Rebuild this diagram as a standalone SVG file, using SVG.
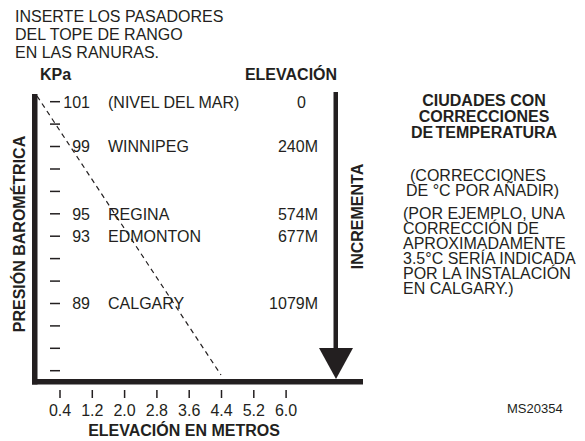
<svg xmlns="http://www.w3.org/2000/svg" width="585" height="441" viewBox="0 0 585 441">
<style>
text{font-family:"Liberation Sans",Arial,Helvetica,sans-serif;fill:#231f20;font-size:16px}
.b{font-weight:bold}
.e{text-anchor:end}
.m{text-anchor:middle}
.tick{stroke:#231f20;stroke-width:1.5}
.bar{fill:#231f20}
</style>
<rect width="585" height="441" fill="#fff"/>
<g id="instructions">
<text x="15" y="22">INSERTE LOS PASADORES</text>
<text x="15" y="40">DEL TOPE DE RANGO</text>
<text x="15" y="58">EN LAS RANURAS.</text>
</g>
<g id="axis-labels">
<text class="b" x="40" y="80">KPa</text>
<text class="b m" x="291" y="80">ELEVACIÓN</text>
<text class="b m" transform="translate(25,234) rotate(-90)">PRESIÓN BAROMÉTRICA</text>
<text class="b m" transform="translate(363,216.5) rotate(-90)">INCREMENTA</text>
<text class="b m" x="184" y="436">ELEVACIÓN EN METROS</text>
</g>
<g id="frame">
<rect class="bar" x="32" y="94" width="5.5" height="290.5"/>
<rect class="bar" x="32" y="379" width="331" height="5.5"/>
</g>
<g id="pressure-scale">
<line class="tick" x1="50" y1="101.7" x2="60" y2="101.7"/>
<line class="tick" x1="50" y1="124.1" x2="60" y2="124.1"/>
<line class="tick" x1="50" y1="146.5" x2="60" y2="146.5"/>
<line class="tick" x1="50" y1="169" x2="60" y2="169"/>
<line class="tick" x1="50" y1="191.4" x2="60" y2="191.4"/>
<line class="tick" x1="50" y1="213.8" x2="60" y2="213.8"/>
<line class="tick" x1="50" y1="236.2" x2="60" y2="236.2"/>
<line class="tick" x1="50" y1="258.6" x2="60" y2="258.6"/>
<line class="tick" x1="50" y1="281.1" x2="60" y2="281.1"/>
<line class="tick" x1="50" y1="303.5" x2="60" y2="303.5"/>
<line class="tick" x1="50" y1="325.9" x2="60" y2="325.9"/>
<line class="tick" x1="50" y1="348.3" x2="60" y2="348.3"/>
<line class="tick" x1="50" y1="370.7" x2="60" y2="370.7"/>
</g>
<g id="row-sea-level">
<text class="e" x="90" y="107.5">101</text>
<text x="108" y="107.5">(NIVEL DEL MAR)</text>
<text class="e" x="306" y="107.5">0</text>
</g>
<g id="row-winnipeg">
<text class="e" x="90" y="152.3">99</text>
<text x="108" y="152.3">WINNIPEG</text>
<text class="e" x="318" y="152.3">240M</text>
</g>
<g id="row-regina">
<text class="e" x="90" y="219.6">95</text>
<text x="108" y="219.6">REGINA</text>
<text class="e" x="318" y="219.6">574M</text>
</g>
<g id="row-edmonton">
<text class="e" x="90" y="242">93</text>
<text x="108" y="242">EDMONTON</text>
<text class="e" x="318" y="242">677M</text>
</g>
<g id="row-calgary">
<text class="e" x="90" y="309.3">89</text>
<text x="108" y="309.3">CALGARY</text>
<text class="e" x="318" y="309.3">1079M</text>
</g>
<g id="connectors">
<line x1="37" y1="96" x2="221" y2="375" stroke="#231f20" stroke-width="1.2" stroke-dasharray="5 4"/>
<rect class="bar" x="333.5" y="92" width="4.5" height="260"/>
<polygon class="bar" points="319,348 353,348 336,379"/>
</g>
<g id="elevation-scale">
<line class="tick" x1="60" y1="390" x2="60" y2="398"/>
<line class="tick" x1="92.3" y1="390" x2="92.3" y2="398"/>
<line class="tick" x1="124.6" y1="390" x2="124.6" y2="398"/>
<line class="tick" x1="156.9" y1="390" x2="156.9" y2="398"/>
<line class="tick" x1="189.2" y1="390" x2="189.2" y2="398"/>
<line class="tick" x1="221.5" y1="390" x2="221.5" y2="398"/>
<line class="tick" x1="253.8" y1="390" x2="253.8" y2="398"/>
<line class="tick" x1="286.1" y1="390" x2="286.1" y2="398"/>
<text class="m" x="60" y="415.5">0.4</text>
<text class="m" x="92.3" y="415.5">1.2</text>
<text class="m" x="124.6" y="415.5">2.0</text>
<text class="m" x="156.9" y="415.5">2.8</text>
<text class="m" x="189.2" y="415.5">3.6</text>
<text class="m" x="221.5" y="415.5">4.4</text>
<text class="m" x="253.8" y="415.5">5.2</text>
<text class="m" x="286.1" y="415.5">6.0</text>
</g>
<g id="legend">
<text class="b m" x="484" y="106">CIUDADES CON</text>
<text class="b m" x="484" y="122">CORRECCIONES</text>
<text class="b m" x="484" y="138" word-spacing="-2">DE TEMPERATURA</text>
<text x="410" y="181">(CORRECCIONES</text>
<text x="406" y="196">DE °C POR AÑADIR)</text>
<text x="403" y="219">(POR EJEMPLO, UNA</text>
<text x="403" y="234">CORRECCIÓN DE</text>
<text x="403" y="249">APROXIMADAMENTE</text>
<text x="403" y="264">3.5°C SERÍA INDICADA</text>
<text x="403" y="279">POR LA INSTALACIÓN</text>
<text x="403" y="294">EN CALGARY.)</text>
<text x="507" y="413" style="font-size:13px">MS20354</text>
</g>
</svg>
